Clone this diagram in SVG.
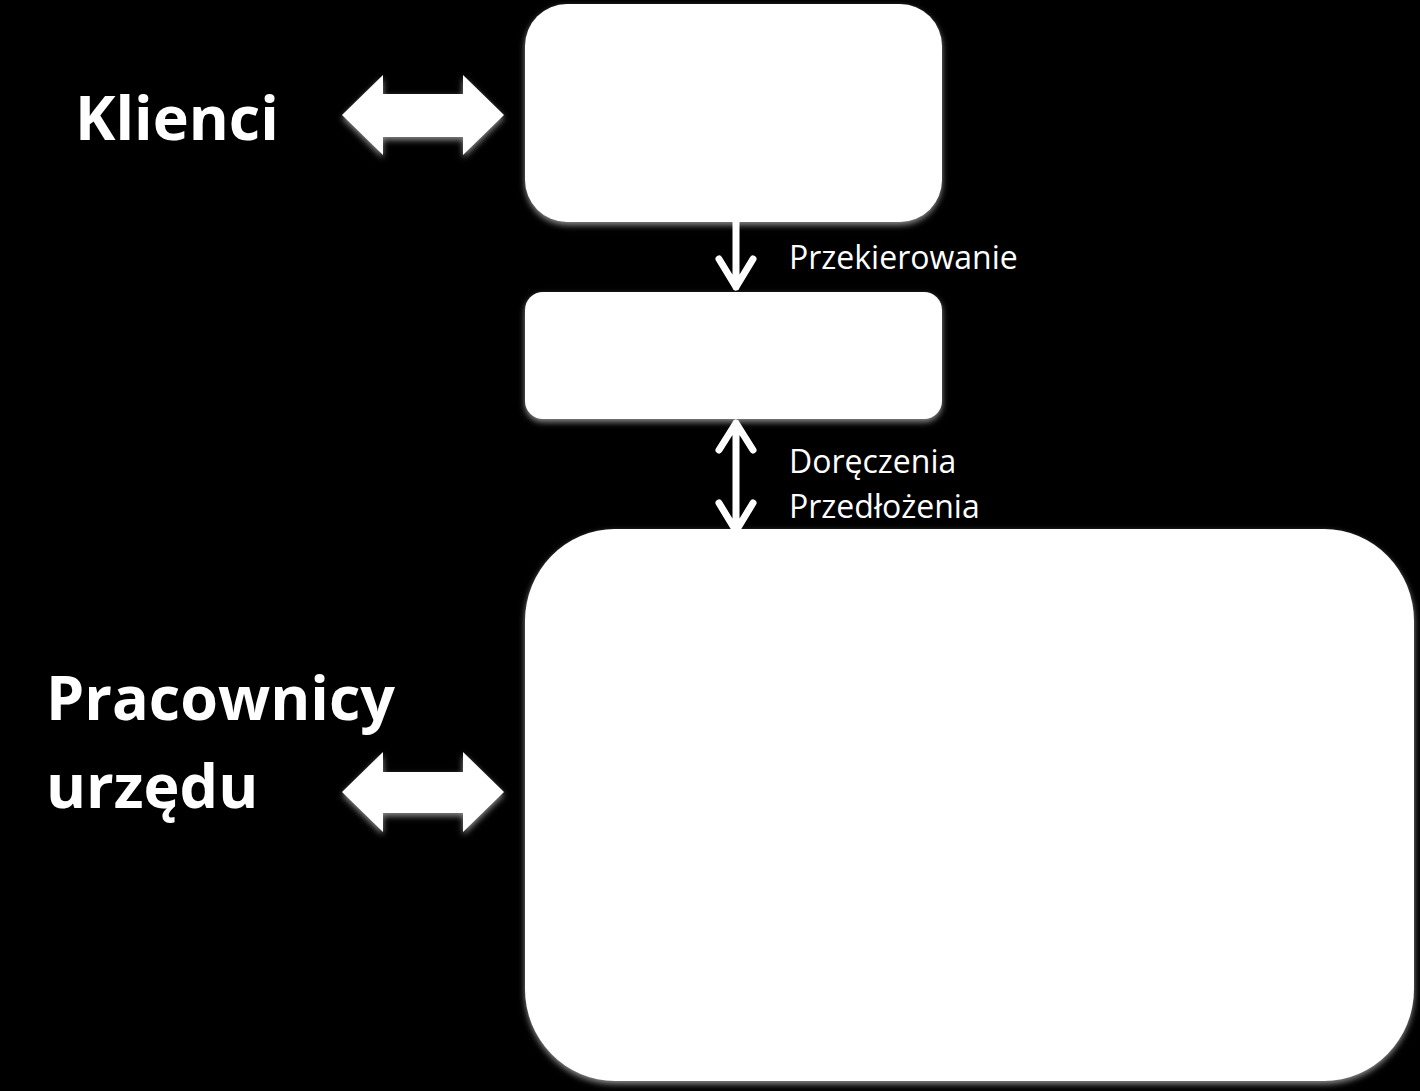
<svg xmlns="http://www.w3.org/2000/svg" width="1420" height="1091" viewBox="0 0 1420 1091">
<defs>
<filter id="glow" x="-10%" y="-10%" width="120%" height="120%">
<feGaussianBlur in="SourceAlpha" stdDeviation="3"/>
<feOffset dx="0" dy="3" result="b"/>
<feFlood flood-color="#ffffff" flood-opacity="0.55"/>
<feComposite in2="b" operator="in"/>
<feMerge><feMergeNode/><feMergeNode in="SourceGraphic"/></feMerge>
</filter>
</defs>
<style>
.box{fill:#ffffff;filter:url(#glow)}
.big{font-family:"Open Sans","Liberation Sans",sans-serif;font-weight:bold;fill:#ffffff;font-size:61px}
.lbl{font-family:"Open Sans","Liberation Sans",sans-serif;fill:#ffffff;font-size:32px}
.line{stroke:#ffffff;stroke-width:7;fill:none;stroke-linecap:round;stroke-linejoin:round}
</style>
<rect width="1420" height="1091" fill="#000000"/>
<g id="node-top"><rect class="box" x="525" y="4" width="417" height="218" rx="42" ry="42"/></g>
<g id="node-middle"><rect class="box" x="525" y="292" width="417" height="127" rx="18" ry="18"/></g>
<g id="node-bottom"><rect class="box" x="525" y="529" width="889" height="552" rx="90" ry="92"/></g>
<g id="label-klienci"><text class="big" x="75" y="140">Klienci</text></g>
<g id="label-pracownicy"><text class="big" x="46" y="720">Pracownicy</text><text class="big" x="46" y="808">urzędu</text></g>
<g id="connectors">
<path class="box" d="M342,115 L383,75 L383,94 L463,94 L463,75 L504,115 L463,155 L463,137 L383,137 L383,155 Z"/>
<path class="box" d="M342,792 L383,752 L383,772 L463,772 L463,752 L504,792 L463,832 L463,813 L383,813 L383,832 Z"/>
<path class="line" d="M736,222 L736,287 M719,259 L736,287 L753,259"/>
<path class="line" d="M736,423 L736,528 M719,450 L736,423 L753,450 M719,503 L736,531 L753,503"/>
<text class="lbl" x="789" y="269">Przekierowanie</text>
<text class="lbl" x="789" y="473">Doręczenia</text>
<text class="lbl" x="789" y="518">Przedłożenia</text>
</g>
</svg>
